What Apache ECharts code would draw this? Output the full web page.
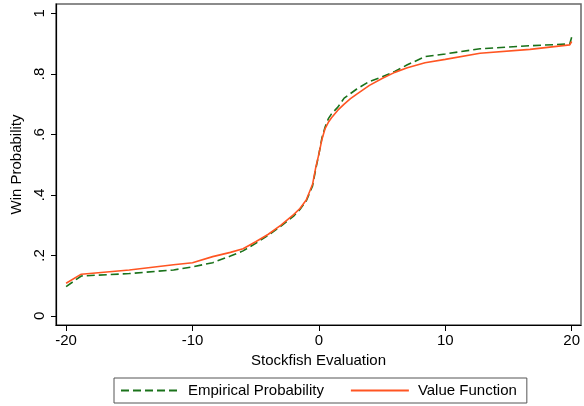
<!DOCTYPE html>
<html>
<head>
<meta charset="utf-8">
<script src="https://cdn.jsdelivr.net/npm/echarts@6/dist/echarts.min.js"></script>
<style>
  html, body { margin: 0; padding: 0; background: #fff; }
  #chart { width: 584px; height: 406px; }
</style>
</head>
<body>
<div id="chart"></div>
<script>
// evaluation points (Stockfish evaluation, pawns)
const evalX = [-20, -18.8, -15, -11.5, -10, -8.4, -7, -6, -5, -4, -3, -2, -1.5, -1, -0.5, -0.25, 0,
  0.25, 0.5, 0.75, 1, 1.5, 2, 2.5, 3, 4, 5, 6, 7, 8.4, 10, 12.75, 16.7, 19.85, 20];
const empirical = [0.097, 0.132, 0.14, 0.152, 0.162, 0.176, 0.198, 0.215, 0.24, 0.267, 0.297, 0.33, 0.352, 0.38, 0.43, 0.485, 0.535,
  0.59, 0.625, 0.652, 0.668, 0.69, 0.72, 0.735, 0.75, 0.775, 0.79, 0.808, 0.83, 0.857, 0.866, 0.883, 0.893, 0.899, 0.921];
const valueFn = [0.108, 0.138, 0.152, 0.169, 0.176, 0.196, 0.21, 0.222, 0.245, 0.27, 0.30, 0.335, 0.355, 0.383, 0.435, 0.49, 0.535,
  0.585, 0.62, 0.64, 0.655, 0.68, 0.70, 0.718, 0.733, 0.762, 0.785, 0.805, 0.82, 0.837, 0.848, 0.868, 0.881, 0.896, 0.907];
const xTicks = [-20, -10, 0, 10, 20];
const yTicks = [0, 0.2, 0.4, 0.6, 0.8, 1];
const yTickLabels = ['0', '.2', '.4', '.6', '.8', '1'];

const font = "'Liberation Sans', Arial, sans-serif";
const chart = echarts.init(document.getElementById('chart'));

chart.setOption({
  animation: false,
  backgroundColor: '#fff',
  textStyle: { fontFamily: font },
  grid: { left: 56, right: 3, top: 4, bottom: 81, show: true, borderColor: '#666', borderWidth: 1.5, backgroundColor: '#fff' },
  xAxis: {
    type: 'value', min: -20.8, max: 20.74,
    name: 'Stockfish Evaluation', nameLocation: 'middle', nameGap: 28,
    nameTextStyle: { fontSize: 15, color: '#000', fontFamily: font },
    axisLine: { onZero: false, lineStyle: { color: '#000', width: 1.2 } },
    axisTick: { show: true, length: 6, customValues: xTicks, lineStyle: { color: '#000' } },
    axisLabel: { customValues: xTicks, fontSize: 15, color: '#000', margin: 8, fontFamily: font },
    splitLine: { show: false }
  },
  yAxis: {
    type: 'value', min: -0.03, max: 1.031,
    name: 'Win Probability', nameLocation: 'middle', nameGap: 32, nameRotate: 90,
    nameTextStyle: { fontSize: 15, color: '#000', fontFamily: font },
    axisLine: { show: true, onZero: false, lineStyle: { color: '#000', width: 1.2 } },
    axisTick: { show: true, length: 5, customValues: yTicks, lineStyle: { color: '#000' } },
    axisLabel: {
      customValues: yTicks, rotate: 90, fontSize: 15, color: '#000', margin: 9, fontFamily: font,
      formatter: v => yTickLabels[yTicks.findIndex(t => Math.abs(t - v) < 1e-6)]
    },
    splitLine: { show: false }
  },
  legend: {
    left: 114, top: 378,
    padding: [5, 10, 5, 6],
    itemGap: 26, itemWidth: 58, itemHeight: 14,
    borderColor: '#555', borderWidth: 1, backgroundColor: '#fff',
    itemStyle: { opacity: 0 },
    textStyle: { fontSize: 15, color: '#000', fontFamily: font, padding: [0, 0, 0, 4] },
    data: ['Empirical Probability', 'Value Function']
  },
  series: [
    {
      name: 'Empirical Probability', type: 'line', symbol: 'none',
      data: evalX.map((x, i) => [x, empirical[i]]),
      lineStyle: { color: '#1a721a', width: 1.6, type: [8, 4] },
      itemStyle: { color: '#1a721a' }, z: 2
    },
    {
      name: 'Value Function', type: 'line', symbol: 'none',
      data: evalX.map((x, i) => [x, valueFn[i]]),
      lineStyle: { color: '#ff5522', width: 1.6 },
      itemStyle: { color: '#ff5522' }, z: 3
    }
  ]
});
</script>
</body>
</html>
